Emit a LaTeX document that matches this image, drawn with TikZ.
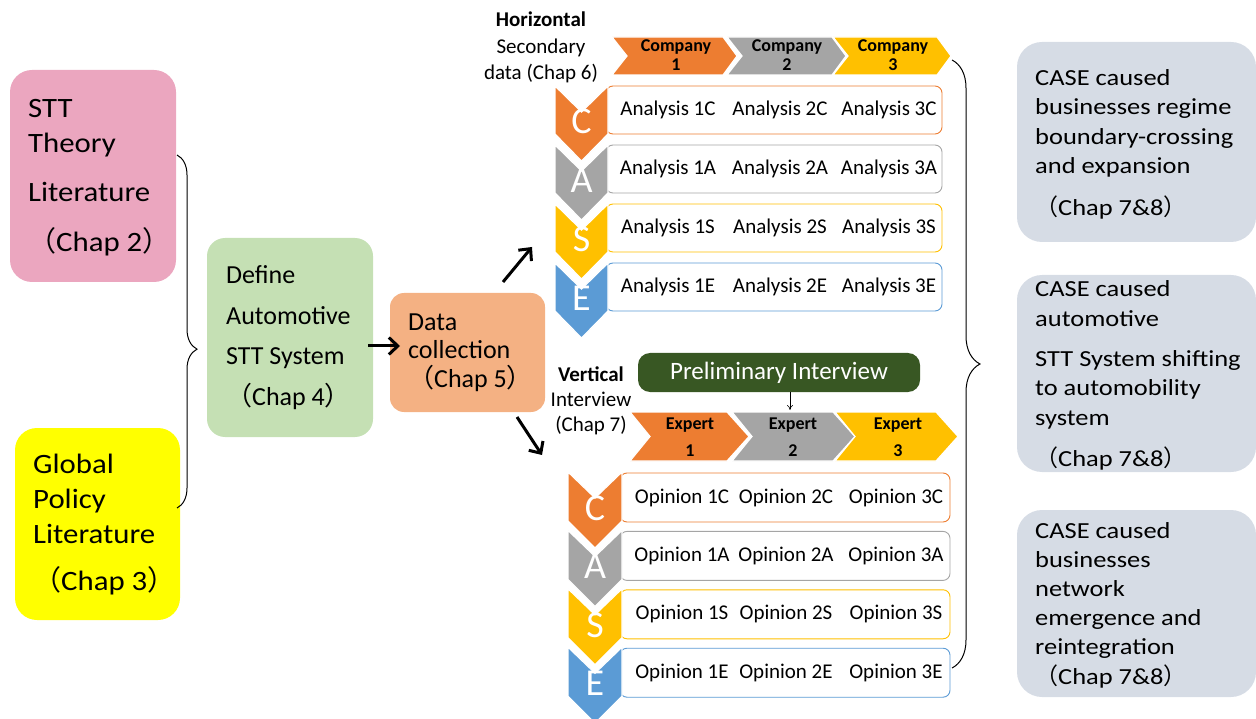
\documentclass[tikz,border=0pt]{standalone}
\usepackage{fontspec}
\setmainfont{Carlito}
\newfontfamily\widefont{Carlito}[FakeStretch=1.1]
\newfontfamily\casefont{Carlito}[FakeStretch=1.15]
\newfontfamily\cjk{Noto Sans CJK SC}
\usetikzlibrary{arrows.meta, decorations.pathreplacing}

\definecolor{caseorange}{HTML}{ED7D31}
\definecolor{casegray}{HTML}{A5A5A5}
\definecolor{casegold}{HTML}{FFC000}
\definecolor{caseblue}{HTML}{5B9BD5}
\definecolor{sttpink}{HTML}{EBA6BF}
\definecolor{policyyellow}{HTML}{FFFF00}
\definecolor{definegreen}{HTML}{C5E0B4}
\definecolor{datapeach}{HTML}{F4B183}
\definecolor{interviewgreen}{HTML}{385723}
\definecolor{resultgray}{HTML}{D6DCE5}

\newcommand{\fsz}[2]{\fontsize{#1}{#2}\selectfont}
\newcommand{\lp}{{\cjk （}}
\newcommand{\rp}{{\cjk ）}}

\begin{document}
\begin{tikzpicture}[x=1pt, y=-1pt,
    blob/.style={inner sep=0pt, rounded corners=#1},
    txt/.style={inner sep=0pt, align=left, anchor=base west},
    rowbox/.style={draw, fill=white, line width=0.9pt, rounded corners=7pt,
                   inner sep=0pt, minimum height=48pt},
    celltxt/.style={inner sep=0pt, font=\fsz{21}{25}},
    caseletter/.style={inner sep=0pt, text=white, font=\fsz{38}{40}},
    chevtxt/.style={inner sep=0pt, align=center, font=\bfseries\fsz{18}{19}},
    chev/.style={draw=white, line width=1.2pt},
    bigarrow/.style={line width=3pt, -{Straight Barb[length=9pt, width=17pt]}}]

  \useasboundingbox (0,0) rectangle (1256,719);

  % literature inputs (text nodes sit on their last baseline)
  \node[blob=22pt, fill=sttpink, minimum width=166pt, minimum height=212pt] (stt) at (93,176) {};
  \node[txt, font=\widefont\fsz{28}{35}] (stt-t) at (28,252)
    {STT\\Theory\\[14pt]Literature\\[15pt]\lp Chap 2\rp};
  \node[blob=22pt, fill=policyyellow, minimum width=165pt, minimum height=192pt] (policy) at (97.5,524) {};
  \node[txt, font=\widefont\fsz{28}{35}] (policy-t) at (33,590)
    {Global\\Policy\\Literature\\[12pt]\lp Chap 3\rp};
  \coordinate (lit-top) at (177,155);
  \coordinate (lit-bot) at (177,508);
  \draw[decorate, decoration={brace, amplitude=20pt, aspect=0.55}, line width=1pt]
    (lit-top) -- (lit-bot);

  % define + data collection
  \node[blob=18pt, fill=definegreen, minimum width=166pt, minimum height=199pt] (define) at (290,337.5) {};
  \node[txt, font=\fsz{26}{40.5}] (define-t) at (226,405)
    {Define\\Automotive\\STT System\\\lp Chap 4\rp};
  \node[blob=14pt, fill=datapeach, minimum width=155pt, minimum height=119pt] (data) at (467.5,352.5) {};
  \node[txt, font=\fsz{26}{29}] (data-t) at (408,388)
    {Data\\collection\\\lp Chap 5\rp};
  \coordinate (def-out) at (368,346);
  \coordinate (data-in) at (400,346);
  \draw[bigarrow] (def-out) -- (data-in);
  \coordinate (up-a) at (503,282);
  \coordinate (up-b) at (532,247);
  \draw[bigarrow] (up-a) -- (up-b);
  \coordinate (dn-a) at (517,417);
  \coordinate (dn-b) at (542,455);
  \draw[bigarrow] (dn-a) -- (dn-b);

  % horizontal: secondary data
  \node[inner sep=0pt, align=center, anchor=base, font=\fsz{21}{26.5}] (horiz) at (541,80)
    {\textbf{Horizontal}\\Secondary\\data (Chap 6)};
  \foreach \i/\xa/\xb/\xt/\col in {1/612/723/676/caseorange, 2/727/832/787/casegray, 3/833/937/893/casegold} {
    \fill[chev, fill=\col] (\xa,37) -- (\xb,37) -- (\xb+14,56) -- (\xb,75) -- (\xa,75) -- (\xa+15,56) -- cycle;
    \node[chevtxt] (co\i) at (\xt,55) {Company\\\i};
  }
  \foreach \k/\ch/\col in {0/C/caseorange, 1/A/casegray, 2/S/casegold, 3/E/caseblue} {
    \node[rowbox, draw=\col, minimum width=336pt] (an\ch) at (774,110+59*\k) {};
    \foreach \n/\x in {1/668, 2/780, 3/889}
      \node[celltxt] (an\n\ch) at (\x,110+59*\k) {Analysis \n\ch};
    \fill[chev, fill=\col] (555,86+59*\k) -- ++(26.5,26) -- ++(26.5,-26) -- ++(0,48)
      -- ++(-26.5,27) -- ++(-26.5,-27) -- cycle;
    \node[caseletter] (hc\ch) at (581.5,121+59*\k) {\ch};
  }

  % vertical: interviews
  \node[inner sep=0pt, align=center, anchor=base, font=\fsz{21}{25}] (vert) at (591,431)
    {\textbf{Vertical}\\Interview\\(Chap 7)};
  \node[blob=12pt, fill=interviewgreen, text=white, font=\fsz{25}{28},
        minimum width=282pt, minimum height=39pt] (prelim) at (779,372.5) {Preliminary Interview};
  \foreach \i/\xa/\xb/\xt/\col in {1/630/727/690/caseorange, 2/732/833/793/casegray, 3/835/936/898/casegold} {
    \fill[chev, fill=\col] (\xa,412) -- (\xb,412) -- (\xb+22,436.5) -- (\xb,461) -- (\xa,461) -- (\xa+20,436.5) -- cycle;
    \node[chevtxt, font=\bfseries\fsz{18}{27}] (ex\i) at (\xt,437) {Expert\\\i};
  }
  \coordinate (pre-out) at (790,392);
  \coordinate (ex-in) at (790,410);
  \draw[-{To[length=5pt, width=6pt]}, line width=0.6pt] (pre-out) -- (ex-in);
  \foreach \k/\ch/\col in {0/C/caseorange, 1/A/casegray, 2/S/casegold, 3/E/caseblue} {
    \node[rowbox, draw=\col, minimum width=330pt, minimum height=49pt] (op\ch) at (785,497.5+58.4*\k) {};
    \foreach \n/\x in {1/682, 2/786, 3/896}
      \node[celltxt] (op\n\ch) at (\x,497.5+58.4*\k) {Opinion \n\ch};
    \fill[chev, fill=\col] (568,472+58.4*\k) -- ++(27,26) -- ++(27,-26) -- ++(0,49)
      -- ++(-27,27) -- ++(-27,-27) -- cycle;
    \node[caseletter] (vc\ch) at (595,508+58.4*\k) {\ch};
  }

  % results
  \coordinate (res-top) at (952,60);
  \coordinate (res-bot) at (952,668);
  \draw[decorate, decoration={brace, amplitude=28pt, aspect=0.5}, line width=1pt]
    (res-top) -- (res-bot);
  \node[blob=25pt, fill=resultgray, minimum width=239pt, minimum height=200pt] (res1) at (1136.5,142) {};
  \node[txt, font=\casefont\fsz{23}{29.5}] (res1-t) at (1035,216)
    {CASE caused\\businesses regime\\boundary-crossing\\and expansion\\[12.5pt]\lp Chap 7\&8\rp};
  \node[blob=25pt, fill=resultgray, minimum width=239pt, minimum height=197pt] (res2) at (1136.5,373.5) {};
  \node[txt, font=\casefont\fsz{23}{29.5}] (res2-t) at (1035,466)
    {CASE caused\\automotive\\[10.5pt]STT System shifting\\to automobility\\system\\[11.5pt]\lp Chap 7\&8\rp};
  \node[blob=25pt, fill=resultgray, minimum width=239pt, minimum height=187pt] (res3) at (1136.5,603.5) {};
  \node[txt, font=\casefont\fsz{23}{29.2}] (res3-t) at (1035,684)
    {CASE caused\\businesses\\network\\emergence and\\reintegration\\\lp Chap 7\&8\rp};
\end{tikzpicture}
\end{document}
